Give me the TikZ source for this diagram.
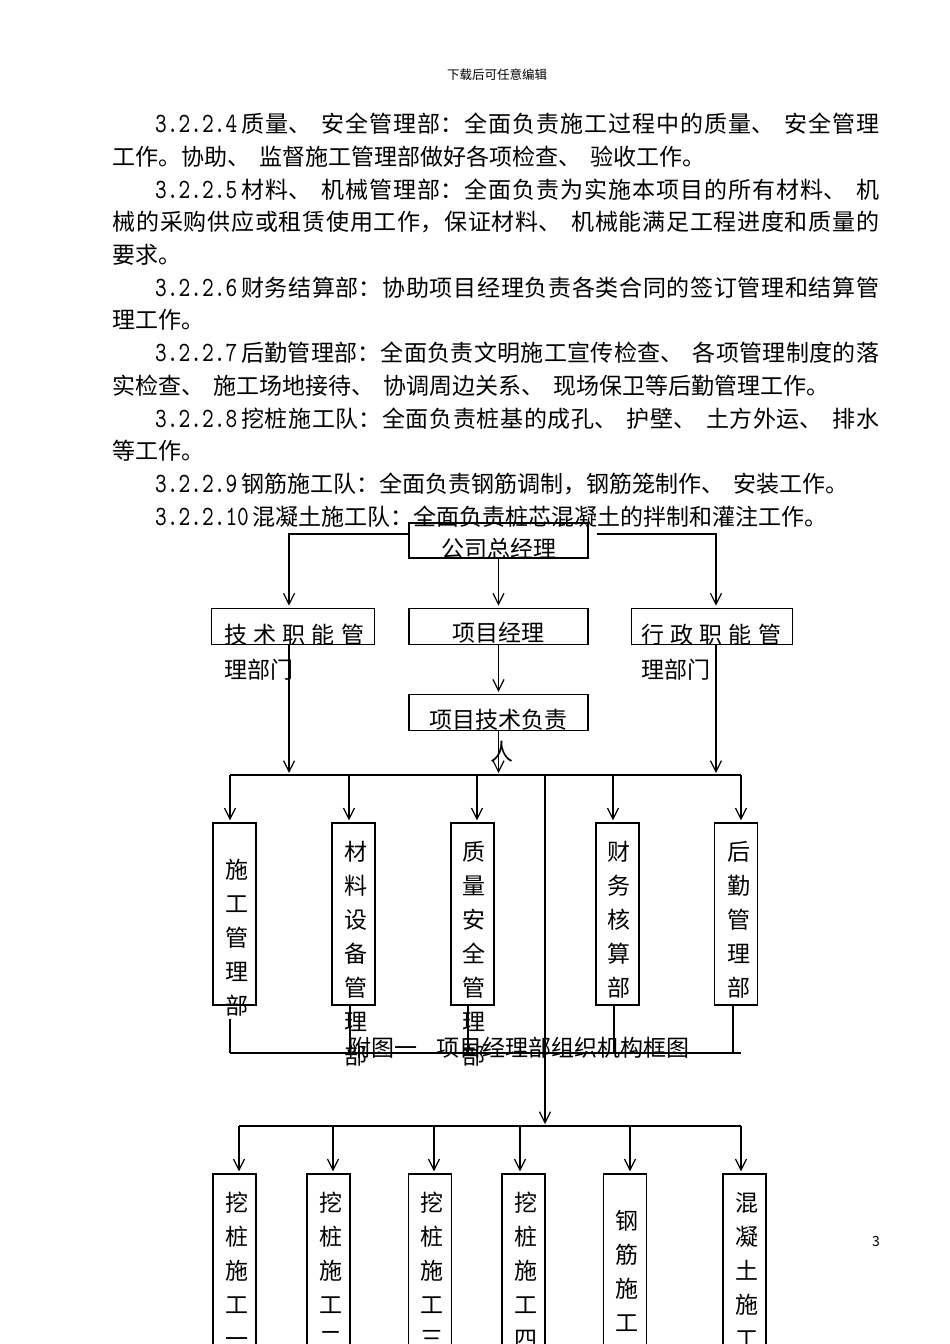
\documentclass[tikz,border=0pt]{standalone}
\usepackage{fontspec}
\setmainfont{Noto Sans CJK SC}
\newfontfamily\numfont{lmmono10-regular.otf}[FakeStretch=0.8]
\usetikzlibrary{arrows.meta,positioning}
\XeTeXlinebreaklocale "zh"
\XeTeXlinebreakskip=0pt plus 3pt
\hbadness=10000
\tolerance=10000
\newcommand\bodyfont{\fontsize{23pt}{34pt}\selectfont\spaceskip=9pt plus 3pt\relax}
\newcommand\secno[1]{{\numfont\fontsize{27.9pt}{34pt}\selectfont#1}\hspace{4pt}}
\newcommand\spread[1]{\makebox[140pt][s]{#1}}
\tikzset{
  box/.style={draw,line width=1.2pt,inner sep=0pt},
  mbox/.style={box,minimum width=43pt,minimum height=182pt},
  lbox/.style={box,minimum width=43pt,minimum height=200pt},
  arr/.style={-{Straight Barb[length=11pt,width=11pt]},line width=1.2pt,shorten >=2pt},
  bus/.style={line width=1.2pt},
  txt/.style={inner sep=0pt,anchor=base west,font=\bodyfont},
  jtxt/.style={txt,text width=#1,align=justify,execute at begin node={\parfillskip=0pt\relax}},
  ch/.style={inner sep=0pt,anchor=base,font=\bodyfont},
}
\newcommand\vstack[4]{\foreach \c [count=\i from 0] in {#4}
  \node[ch] (#1\i) at (#2,{#3+34*\i}) {\c};}

\begin{document}
\begin{tikzpicture}[x=1pt,y=-1pt]
\path[use as bounding box] (0,0) rectangle (950,1344);
\fill[white] (0,0) rectangle (950,1344);
\clip (0,0) rectangle (950,1344);

% page text
\node[inner sep=0pt,anchor=base,font=\fontsize{12.5pt}{15pt}\selectfont] (hdr) at (497,79.7) {下载后可任意编辑};
\node[jtxt=724pt] (l1) at (155,132.7) {\secno{3.2.2.4}质量、 安全管理部：全面负责施工过程中的质量、 安全管理};
\node[txt] (l2) at (112.5,165.4) {工作。协助、 监督施工管理部做好各项检查、 验收工作。};
\node[jtxt=724pt] (l3) at (155,198.1) {\secno{3.2.2.5}材料、 机械管理部：全面负责为实施本项目的所有材料、 机};
\node[jtxt=766.5pt] (l4) at (112.5,230.8) {械的采购供应或租赁使用工作，保证材料、 机械能满足工程进度和质量的};
\node[txt] (l5) at (112.5,263.5) {要求。};
\node[jtxt=724pt] (l6) at (155,296.2) {\secno{3.2.2.6}财务结算部：协助项目经理负责各类合同的签订管理和结算管};
\node[txt] (l7) at (112.5,328.9) {理工作。};
\node[jtxt=724pt] (l8) at (155,361.6) {\secno{3.2.2.7}后勤管理部：全面负责文明施工宣传检查、 各项管理制度的落};
\node[txt] (l9) at (112.5,394.3) {实检查、 施工场地接待、 协调周边关系、 现场保卫等后勤管理工作。};
\node[jtxt=724pt] (l10) at (155,427) {\secno{3.2.2.8}挖桩施工队：全面负责桩基的成孔、 护壁、 土方外运、 排水};
\node[txt] (l11) at (112.5,459.7) {等工作。};
\node[txt] (l12) at (155,492.4) {\secno{3.2.2.9}钢筋施工队：全面负责钢筋调制，钢筋笼制作、 安装工作。};
\node[txt] (l13) at (155,525.1) {\secno{3.2.2.10}混凝土施工队：全面负责桩芯混凝土的拌制和灌注工作。};

% upper boxes
\node[box,minimum width=179pt,minimum height=35pt] (gm) at (498.5,540.5) {};
\node[box,minimum width=179pt,minimum height=36pt,below=49pt of gm] (pm) {};
\node[box,minimum width=179pt,minimum height=36pt,below=49pt of pm] (tech) {};
\node[box,minimum width=162.5pt,minimum height=36pt,left=33.5pt of pm] (js) {};
\node[box,minimum width=160.5pt,minimum height=36pt,right=42.5pt of pm] (xz) {};
\node[ch] (gmt) at (498.5,557.7) {公司总经理};
\node[ch] (pmt) at (498.5,641.7) {项目经理};
\node[txt] (jst) at (224,643.7) {\spread{技\hfill{}术\hfill{}职\hfill{}能\hfill{}管}};
\node[txt] (jst2) at (224,678.7) {理部门};
\node[txt] (xzt) at (641,643.7) {\spread{行\hfill{}政\hfill{}职\hfill{}能\hfill{}管}};
\node[txt] (xzt2) at (641,678.7) {理部门};
\node[ch] (techt) at (498,728.7) {项目技术负责};
\node[ch] (techt2) at (502,760.7) {人};

% middle boxes
\node[mbox] (sg) at (234.5,914) {};
\node[mbox] (cl) at (353.5,914) {};
\node[mbox] (zl) at (472.5,914) {};
\node[mbox] (cw) at (617.5,914) {};
\node[mbox] (hq) at (736,914) {};
\vstack{sgt}{237}{878.7}{施,工,管,理,部}
\vstack{clt}{355.5}{860.7}{材,料,设,备,管,理,部}
\vstack{zlt}{474}{860.7}{质,量,安,全,管,理,部}
\vstack{cwt}{618.5}{860.7}{财,务,核,算,部}
\vstack{hqt}{739}{860.7}{后,勤,管,理,部}
\node[txt] (cap) at (348,1056.7) {附图一\hspace{19pt}项目经理部组织机构框图};

% lower boxes
\node[lbox] (w1) at (234.5,1274) {};
\node[lbox] (w2) at (328.5,1274) {};
\node[lbox] (w3) at (430,1274) {};
\node[lbox] (w4) at (523.5,1274) {};
\node[lbox] (gj) at (625,1274) {};
\node[lbox] (hnt) at (744.5,1274) {};
\vstack{w1t}{237}{1211.7}{挖,桩,施,工,一}
\vstack{w2t}{330.5}{1211.7}{挖,桩,施,工,二}
\vstack{w3t}{432}{1211.7}{挖,桩,施,工,三}
\vstack{w4t}{526}{1211.7}{挖,桩,施,工,四}
\vstack{gjt}{627}{1229.7}{钢,筋,施,工}
\vstack{hntt}{747}{1211.7}{混,凝,土,施,工}
\node[inner sep=0pt,anchor=base,font=\fontsize{14pt}{16pt}\selectfont] (pg) at (876,1246.6) {3};

% connectors
\coordinate (bt) at (545,775);
\coordinate (bb) at (0,1053);
\coordinate (lb) at (0,1126);
\draw[arr] ([yshift=6.5pt]gm.west) -| ([xshift=-4pt]js.north);
\draw[arr] ([xshift=8pt,yshift=6.5pt]gm.east) -| ([xshift=4pt]xz.north);
\draw[arr] (gm) -- (pm);
\draw[arr] (pm) -- (tech);
\path ([xshift=-4pt]js.south) coordinate (jsd) ([xshift=4pt]xz.south) coordinate (xzd);
\draw[arr] (jsd) -- (jsd |- bt);
\draw[arr] (xzd) -- (xzd |- bt);
\draw[arr] (tech) -- (tech |- bt);
\draw[arr] (bt) -- (bt |- lb);
\foreach \bx/\ux/\dx/\sx in {sg/-4.5/-4.5/13,cl/-4.5/-3.5/0,zl/4.5/-4.5/0,cw/-4.5/-3.5/0,hq/5/-3/0}{
  \path ([xshift=\ux pt]\bx.north) coordinate (\bx u) ([xshift=\dx pt,yshift=-\sx pt]\bx.south) coordinate (\bx d);
  \draw[arr] (\bx u |- bt) -- (\bx u);
  \draw[bus] (\bx d) -- (\bx d |- bb);
}
\draw[bus] (sgu |- bt) -- (hqu |- bt);
\draw[bus] (sgd |- bb) -- (hqu |- bb);
\foreach \bx/\ux in {w1/4.5,w2/4.5,w3/4,w4/-3.5,gj/5,hnt/-3.5}{
  \path ([xshift=\ux pt]\bx.north) coordinate (\bx u);
  \draw[arr] (\bx u |- lb) -- (\bx u);
}
\draw[bus] (w1u |- lb) -- (hntu |- lb);
\end{tikzpicture}
\end{document}
